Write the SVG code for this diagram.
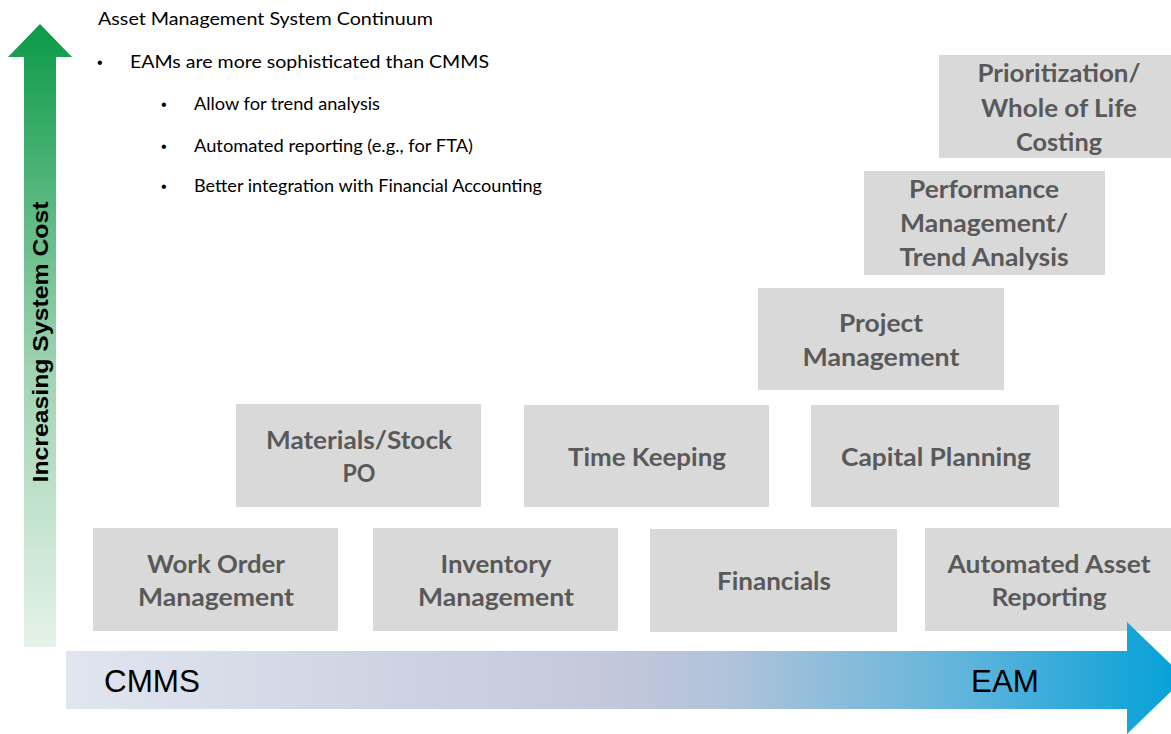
<svg xmlns="http://www.w3.org/2000/svg" width="1171" height="734" viewBox="0 0 1171 734">
<defs>
<style>
.box{fill:#d9d9d9}
.lbl{font-family:Lato,"Open Sans","Liberation Sans",sans-serif;font-weight:bold;font-size:25px;fill:#595959;text-anchor:middle}
.note{font-family:Lato,"Open Sans","Liberation Sans",sans-serif;font-size:17px;fill:#000}
.dot{font-family:"Liberation Sans",Arial,sans-serif;font-size:16px;fill:#000}
.axis{font-family:"Liberation Sans",Arial,sans-serif;fill:#000}
</style>
<linearGradient id="gUp" x1="0" y1="1" x2="0" y2="0">
<stop offset="0" stop-color="#e4f2e8"/>
<stop offset="0.45" stop-color="#9fd3b1"/>
<stop offset="1" stop-color="#0b9a48"/>
</linearGradient>
<linearGradient id="gRight" x1="66" y1="0" x2="1171" y2="0" gradientUnits="userSpaceOnUse">
<stop offset="0" stop-color="#e0e5ef"/>
<stop offset="0.5" stop-color="#c2c7db"/>
<stop offset="0.6" stop-color="#b0c3da"/>
<stop offset="0.8" stop-color="#65b5db"/>
<stop offset="1" stop-color="#07a2d8"/>
</linearGradient>
</defs>
<rect width="1171" height="734" fill="#fff"/>

<g id="cost-arrow">
<polygon points="24,647 24,57 8,57 40,24 72,57 56,57 56,647" fill="url(#gUp)"/>
<text class="axis" font-size="22" font-weight="bold" transform="translate(48,342) rotate(-90)" text-anchor="middle" textLength="281" lengthAdjust="spacingAndGlyphs">Increasing System Cost</text>
</g>

<g id="notes">
<text class="note" x="98" y="25" textLength="335" lengthAdjust="spacingAndGlyphs">Asset Management System Continuum</text>
<text class="dot" x="97" y="68">•</text>
<text class="note" x="130" y="68" textLength="359" lengthAdjust="spacingAndGlyphs">EAMs are more sophisticated than CMMS</text>
<text class="dot" x="161" y="110">•</text>
<text class="note" x="194" y="110" textLength="186" lengthAdjust="spacingAndGlyphs">Allow for trend analysis</text>
<text class="dot" x="161" y="152">•</text>
<text class="note" x="194" y="152" textLength="279" lengthAdjust="spacingAndGlyphs">Automated reporting (e.g., for FTA)</text>
<text class="dot" x="161" y="192">•</text>
<text class="note" x="194" y="192" textLength="348" lengthAdjust="spacingAndGlyphs">Better integration with Financial Accounting</text>
</g>

<g id="work-order">
<rect class="box" x="93" y="528" width="245" height="103"/>
<text class="lbl" x="216" y="573" textLength="138" lengthAdjust="spacingAndGlyphs">Work Order</text>
<text class="lbl" x="216" y="606" textLength="156" lengthAdjust="spacingAndGlyphs">Management</text>
</g>
<g id="inventory">
<rect class="box" x="373" y="528" width="245" height="103"/>
<text class="lbl" x="496" y="573" textLength="111" lengthAdjust="spacingAndGlyphs">Inventory</text>
<text class="lbl" x="496" y="606" textLength="156" lengthAdjust="spacingAndGlyphs">Management</text>
</g>
<g id="financials">
<rect class="box" x="650" y="529" width="247" height="103"/>
<text class="lbl" x="774" y="590" textLength="114" lengthAdjust="spacingAndGlyphs">Financials</text>
</g>
<g id="automated-reporting">
<rect class="box" x="925" y="528" width="246" height="103"/>
<text class="lbl" x="1049" y="573" textLength="203" lengthAdjust="spacingAndGlyphs">Automated Asset</text>
<text class="lbl" x="1049" y="606" textLength="115" lengthAdjust="spacingAndGlyphs">Reporting</text>
</g>
<g id="materials">
<rect class="box" x="236" y="404" width="245" height="103"/>
<text class="lbl" x="359" y="449" textLength="186" lengthAdjust="spacingAndGlyphs">Materials/Stock</text>
<text class="lbl" x="359" y="482" textLength="33" lengthAdjust="spacingAndGlyphs">PO</text>
</g>
<g id="time-keeping">
<rect class="box" x="524" y="405" width="245" height="102"/>
<text class="lbl" x="647" y="466" textLength="158" lengthAdjust="spacingAndGlyphs">Time Keeping</text>
</g>
<g id="capital-planning">
<rect class="box" x="811" y="405" width="248" height="102"/>
<text class="lbl" x="936" y="466" textLength="190" lengthAdjust="spacingAndGlyphs">Capital Planning</text>
</g>
<g id="project-management">
<rect class="box" x="758" y="288" width="246" height="102"/>
<text class="lbl" x="881" y="332" textLength="84" lengthAdjust="spacingAndGlyphs">Project</text>
<text class="lbl" x="881" y="366" textLength="157" lengthAdjust="spacingAndGlyphs">Management</text>
</g>
<g id="performance">
<rect class="box" x="864" y="171" width="241" height="104"/>
<text class="lbl" x="984" y="198" textLength="150" lengthAdjust="spacingAndGlyphs">Performance</text>
<text class="lbl" x="984" y="232" textLength="168" lengthAdjust="spacingAndGlyphs">Management/</text>
<text class="lbl" x="984" y="266" textLength="169" lengthAdjust="spacingAndGlyphs">Trend Analysis</text>
</g>
<g id="prioritization">
<rect class="box" x="939" y="55" width="232" height="103"/>
<text class="lbl" x="1059" y="82" textLength="163" lengthAdjust="spacingAndGlyphs">Prioritization/</text>
<text class="lbl" x="1059" y="117" textLength="156" lengthAdjust="spacingAndGlyphs">Whole of Life</text>
<text class="lbl" x="1059" y="151" textLength="86" lengthAdjust="spacingAndGlyphs">Costing</text>
</g>

<g id="continuum-arrow">
<polygon points="66,651 1127,651 1127,622 1185,678 1127,734 1127,709 66,709" fill="url(#gRight)"/>
<text class="axis" x="104" y="692" font-size="31" textLength="96" lengthAdjust="spacingAndGlyphs">CMMS</text>
<text class="axis" x="971" y="692" font-size="31" textLength="68" lengthAdjust="spacingAndGlyphs">EAM</text>
</g>
<g id="connectors"/>
</svg>
